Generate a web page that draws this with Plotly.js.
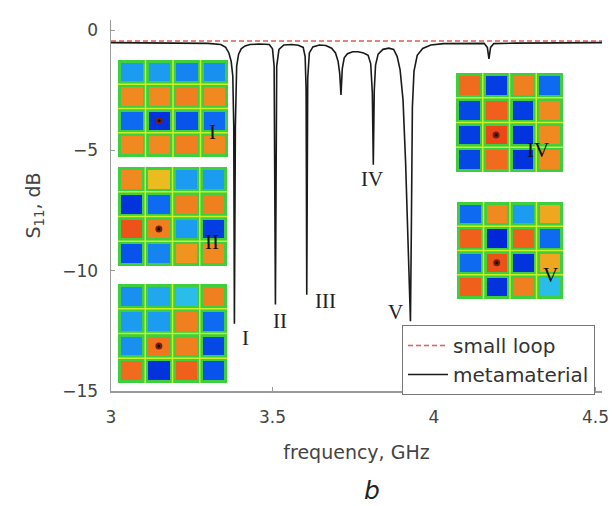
<!DOCTYPE html>
<html>
<head>
<meta charset="utf-8">
<script src="https://cdn.plot.ly/plotly-3.0.1.min.js"></script>
<style>html,body{margin:0;padding:0;background:#fff}#chart{width:612px;height:506px}</style>
</head>
<body>
<div id="chart"></div>
<script>
// ---- data ----
var xTicks = [3, 3.5, 4, 4.5];
var yTicks = [0, -5, -10, -15];

var smallLoopX = [3.0, 4.52];
var smallLoopY = [-0.45, -0.45];

var metaX = [3.00, 3.10, 3.20, 3.30, 3.34, 3.355, 3.365, 3.372, 3.377, 3.380, 3.382, 3.385, 3.389, 3.395, 3.403, 3.415, 3.43, 3.46,
  3.49, 3.500, 3.505, 3.509, 3.513, 3.520, 3.535, 3.56, 3.58, 3.595, 3.601, 3.604, 3.606, 3.609, 3.614, 3.625, 3.645, 3.665, 3.683,
  3.695, 3.703, 3.708, 3.712, 3.716, 3.722, 3.732, 3.748, 3.765, 3.782, 3.796, 3.804, 3.809, 3.812, 3.815, 3.819, 3.827, 3.842,
  3.860, 3.875, 3.886, 3.895, 3.904, 3.912, 3.919, 3.924, 3.927, 3.930, 3.933, 3.938, 3.948, 3.965, 3.99, 4.03, 4.10, 4.155,
  4.165, 4.170, 4.175, 4.185, 4.25, 4.35, 4.45, 4.52];
var metaY = [-0.52, -0.52, -0.53, -0.55, -0.6, -0.72, -0.95, -1.3, -1.9, -4.0, -12.2, -4.0, -1.5, -1.0, -0.78, -0.66, -0.6, -0.58,
  -0.6, -0.78, -1.5, -11.4, -1.5, -0.8, -0.62, -0.6, -0.63, -0.72, -1.1, -2.5, -11.0, -2.0, -0.95, -0.7, -0.62, -0.64, -0.75,
  -0.95, -1.3, -1.8, -2.7, -1.6, -1.15, -0.98, -0.9, -0.9, -0.95, -1.05, -1.4, -2.6, -5.6, -2.5, -1.45, -1.0, -0.8,
  -0.75, -0.8, -1.1, -1.65, -2.9, -5.5, -9.0, -11.0, -12.1, -8.0, -3.2, -1.7, -1.05, -0.76, -0.62, -0.56, -0.55, -0.55,
  -0.72, -1.2, -0.72, -0.56, -0.54, -0.53, -0.52, -0.52];

// inset field maps (4x4, rows top to bottom; -1 blue ... +1 red)
var insetI = [[-0.4, -0.4, -0.5, -0.45], [0.6, 0.6, 0.65, 0.6], [-0.6, -0.85, -0.7, -0.6], [0.6, 0.6, 0.65, 0.6]];
var insetII = [[0.6, 0.35, -0.4, -0.4], [-0.85, -0.6, 0.65, 0.65], [0.85, 0.65, -0.4, -0.8], [-0.7, -0.5, 0.55, 0.6]];
var insetIII = [[-0.45, -0.35, -0.25, 0.65], [-0.4, -0.4, 0.65, -0.6], [-0.45, 0.7, 0.65, -0.75], [0.75, -0.85, 0.8, -0.7]];
var insetIV = [[0.75, -0.8, 0.65, -0.6], [-0.75, 0.8, -0.8, 0.6], [-0.8, 0.9, -0.85, 0.6], [-0.75, 0.75, -0.85, 0.6]];
var insetV = [[-0.6, 0.6, -0.4, 0.45], [0.8, -0.9, 0.8, -0.6], [-0.6, 0.85, -0.85, 0.45], [0.8, -0.85, 0.65, -0.25]];
var sourceCol = [1];
var sourceRow = [2];

var modeLabels = ['I', 'II', 'III', 'IV', 'V'];
var modeLabelX = [3.415, 3.522, 3.665, 3.809, 3.882];
var modeLabelY = [-12.8, -12.1, -11.25, -6.2, -11.7];

// ---- layout helpers ----
var PL = 111, PW = 491, PB = 391, PH = 371;
function px2paperX(p) { return (p - PL) / PW; }
function px2paperY(p) { return (PB - p) / PH; }

var insets = [
  {z: insetI, px: [118, 228], py: [60, 157], label: 'I', lx: 212, ly: 132},
  {z: insetII, px: [118, 227], py: [167, 266], label: 'II', lx: 212, ly: 242},
  {z: insetIII, px: [118, 227], py: [284, 383], label: '', lx: 0, ly: 0},
  {z: insetIV, px: [456, 563], py: [73, 172], label: 'IV', lx: 538, ly: 150},
  {z: insetV, px: [457, 563], py: [202, 299], label: 'V', lx: 550, ly: 275}
];

var jet = [[0, '#0018b0'], [0.05, '#0028d8'], [0.175, '#0a5ef0'], [0.3, '#1c9cf0'], [0.4, '#30c8e8'],
  [0.5, '#40d040'], [0.6, '#d8e020'], [0.7, '#f0b020'], [0.8, '#f08a20'], [0.9, '#f0601c'], [0.975, '#e83a14'], [1, '#e02010']];

var traces = [
  {x: smallLoopX, y: smallLoopY, type: 'scatter', mode: 'lines', name: 'small loop',
   line: {color: '#e45a5a', width: 1.5, dash: '5px,3px'}, hoverinfo: 'skip'},
  {x: metaX, y: metaY, type: 'scatter', mode: 'lines', name: 'metamaterial',
   line: {color: '#1a1a1a', width: 1.6}, hoverinfo: 'skip'}
];

var layout = {
  width: 612, height: 506,
  margin: {l: 111, r: 10, t: 20, b: 115},
  paper_bgcolor: '#ffffff', plot_bgcolor: 'rgba(0,0,0,0)',
  showlegend: true,
  font: {family: 'DejaVu Sans, Arial, sans-serif', color: '#333'},
  xaxis: {
    range: [3, 4.52], tickvals: xTicks, ticktext: xTicks.map(String),
    showline: true, linecolor: '#9a9a9a', linewidth: 1.5, mirror: false,
    ticks: 'inside', ticklen: 4, tickcolor: '#9a9a9a', showgrid: false, zeroline: false,
    tickfont: {size: 17, color: '#444'}, ticklabelstandoff: 10, ticklabeloverflow: 'allow',
    title: {text: 'frequency, GHz', font: {size: 19, color: '#444'}, standoff: 20}
  },
  yaxis: {
    range: [-15, 0.42], tickvals: yTicks,
    showline: true, linecolor: '#9a9a9a', linewidth: 1.5, mirror: false,
    ticks: 'inside', ticklen: 4, tickcolor: '#9a9a9a', showgrid: false, zeroline: false,
    tickfont: {size: 17, color: '#444'}, ticklabelstandoff: 8,
    title: {text: 'S<sub>11</sub>, dB', font: {size: 19, color: '#444'}, standoff: 16}
  },
  legend: {
    x: px2paperX(402), y: px2paperY(325), xanchor: 'left', yanchor: 'top',
    bgcolor: '#ffffff', bordercolor: '#777', borderwidth: 1,
    font: {size: 20, color: '#333', family: 'DejaVu Sans, Arial, sans-serif'},
    itemwidth: 40, tracegroupgap: 0
  },
  shapes: [],
  annotations: []
};

insets.forEach(function (ins, i) {
  var n = i + 2;
  var xa = 'x' + n, ya = 'y' + n;
  layout['xaxis' + n] = {domain: [px2paperX(ins.px[0]), px2paperX(ins.px[1])], anchor: ya,
    range: [-0.5, 3.5], visible: false, fixedrange: true};
  layout['yaxis' + n] = {domain: [px2paperY(ins.py[1]), px2paperY(ins.py[0])], anchor: xa,
    range: [3.5, -0.5], visible: false, fixedrange: true};
  layout.shapes.push({type: 'rect', xref: xa + ' domain', yref: ya + ' domain', x0: 0, x1: 1, y0: 0, y1: 1,
    fillcolor: '#3ecf3e', line: {width: 0}, layer: 'below'});
  [0.5, 1.5, 2.5].forEach(function (v) {
    layout.shapes.push({type: 'line', xref: xa, yref: ya + ' domain', x0: v, x1: v, y0: 0, y1: 1,
      line: {color: '#c8f028', width: 1.5}, layer: 'below'});
    layout.shapes.push({type: 'line', xref: xa + ' domain', yref: ya, x0: 0, x1: 1, y0: v, y1: v,
      line: {color: '#c8f028', width: 1.5}, layer: 'below'});
  });
  traces.push({type: 'heatmap', z: ins.z, xaxis: xa, yaxis: ya, zmin: -1, zmax: 1, colorscale: jet,
    showscale: false, xgap: 6, ygap: 6, hoverinfo: 'skip', showlegend: false});
  traces.push({type: 'scatter', mode: 'markers', x: sourceCol, y: sourceRow, xaxis: xa, yaxis: ya,
    marker: {color: '#111', size: 5, line: {color: '#7a2010', width: 2}}, hoverinfo: 'skip', showlegend: false});
  if (ins.label) {
    layout.annotations.push({xref: 'paper', yref: 'paper', x: px2paperX(ins.lx), y: px2paperY(ins.ly),
      text: ins.label, showarrow: false, xanchor: 'center', yanchor: 'middle',
      font: {family: 'Liberation Serif, Times New Roman, serif', size: 21, color: '#111'}});
  }
});

modeLabels.forEach(function (t, i) {
  layout.annotations.push({x: modeLabelX[i], y: modeLabelY[i], xref: 'x', yref: 'y', text: t, showarrow: false,
    xanchor: 'center', yanchor: 'middle',
    font: {family: 'Liberation Serif, Times New Roman, serif', size: 21, color: '#222'}});
});

layout.annotations.push({xref: 'paper', yref: 'paper', x: px2paperX(372), y: px2paperY(490), text: '<i>b</i>',
  xanchor: 'center', yanchor: 'middle',
  showarrow: false, font: {size: 25, color: '#222', family: 'DejaVu Sans, Arial, sans-serif'}});

Plotly.newPlot('chart', traces, layout, {displayModeBar: false, staticPlot: true});
</script>
</body>
</html>
